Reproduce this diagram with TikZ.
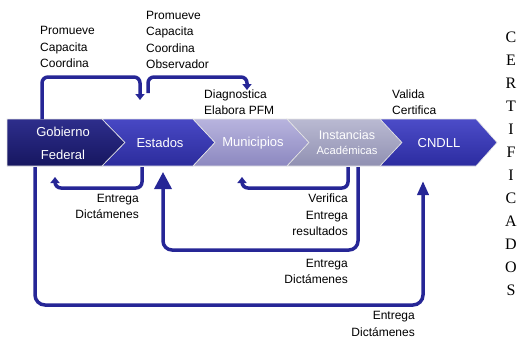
\documentclass[tikz,border=0pt]{standalone}
\usepackage{fontspec}
\setmainfont{Liberation Sans}
\newfontfamily\certfont{Liberation Serif}
\usepackage{xcolor}
\usepackage{tikz}
\usetikzlibrary{arrows.meta,positioning,calc}

\definecolor{flowblue}{RGB}{38,38,150}
\definecolor{gobtop}{RGB}{46,46,140}
\definecolor{gobbot}{RGB}{22,22,96}
\definecolor{esttop}{RGB}{72,72,196}
\definecolor{estbot}{RGB}{44,44,156}
\definecolor{muntop}{RGB}{184,180,222}
\definecolor{munbot}{RGB}{140,136,192}
\definecolor{instop}{RGB}{186,186,210}
\definecolor{insbot}{RGB}{144,144,178}
\definecolor{cndtop}{RGB}{76,76,200}
\definecolor{cndbot}{RGB}{44,44,160}

\begin{document}
\begin{tikzpicture}[
    x=1pt, y=-1pt,
    chev/.style={draw=white!80!gray, line width=0.6pt},
    chevtext/.style={text=white, align=center, inner sep=0pt, font=\fontsize{13}{23}\selectfont},
    lbl/.style={inner sep=0pt, font=\fontsize{12}{16.5}\selectfont},
    flow/.style={draw=flowblue, line width=3.5pt, rounded corners=6pt, -{Triangle[length=6pt,width=9pt]}},
    bigflow/.style={flow, rounded corners=9pt, -{Triangle[length=17pt,width=17pt]}}
]
    \useasboundingbox (0,0) rectangle (517,343);

    % the chevron band
    \shade[chev, top color=gobtop, bottom color=gobbot]
        (7,119) -- (102,119) -- (125,142.5) -- (102,166) -- (7,166) -- cycle;
    \shade[chev, top color=esttop, bottom color=estbot]
        (102,119) -- (193,119) -- (215,142.5) -- (193,166) -- (102,166) -- (125,142.5) -- cycle;
    \shade[chev, top color=muntop, bottom color=munbot]
        (193,119) -- (287,119) -- (309,142.5) -- (287,166) -- (193,166) -- (215,142.5) -- cycle;
    \shade[chev, top color=instop, bottom color=insbot]
        (287,119) -- (380,119) -- (402,142.5) -- (380,166) -- (287,166) -- (309,142.5) -- cycle;
    \shade[chev, top color=cndtop, bottom color=cndbot]
        (380,119) -- (476,119) -- (497,142.5) -- (476,166) -- (380,166) -- (402,142.5) -- cycle;

    \node[chevtext] (gob) at (63,143) {Gobierno\\Federal};
    \node[chevtext] (est) at (160,143) {Estados};
    \node[chevtext] (mun) at (253,143) {Municipios};
    \node[chevtext, font=\fontsize{12.5}{15}\selectfont] (ins) at (347,142.5) {Instancias\\{\fontsize{11.2}{15}\selectfont Académicas}};
    \node[chevtext] (cnd) at (439,143) {CNDLL};

    % connector ends
    \coordinate (gobtop) at (42,119);
    \coordinate (esttop) at (140,100);
    \coordinate (estup) at (148,93);
    \coordinate (muntop) at (247,90);
    \coordinate (estbot) at (142,167);
    \coordinate (gobret) at (55,177);
    \coordinate (insbot) at (348,167);
    \coordinate (munret) at (242,177);
    \coordinate (insdown) at (358,167);
    \coordinate (estret) at (163,172);
    \coordinate (gobbot) at (35,167);
    \coordinate (cndret) at (423,181);

    % flows above the band
    \draw[flow] (gobtop) |- ($(esttop)+(0,-23)$) -- (esttop);
    \draw[flow] (estup) |- ($(muntop)+(0,-13)$) -- (muntop);

    % flows below the band
    \draw[flow] (estbot) |- ($(gobret)+(0,11)$) -- (gobret);
    \draw[flow] (insbot) |- ($(munret)+(0,11)$) -- (munret);
    \draw[bigflow] (insdown) |- ($(estret)+(0,78)$) -- (estret);
    \draw[flow, rounded corners=10pt, -{Triangle[length=14pt,width=11pt]}] (gobbot) |- ($(cndret)+(0,124)$) -- (cndret);

    % labels
    \node[lbl, anchor=west, align=left] (lpromA) at (40,47) {Promueve\\Capacita\\Coordina};
    \node[lbl, anchor=west, align=left] (lpromB) at (146,40) {Promueve\\Capacita\\Coordina\\Observador};
    \node[lbl, anchor=west, align=left] (ldiag) at (204,102) {Diagnostica\\Elabora PFM};
    \node[lbl, anchor=west, align=left] (lval) at (392,102) {Valida\\Certifica};
    \node[lbl, anchor=east, align=right] (lentA) at (139,206.5) {Entrega\\Dictámenes};
    \node[lbl, anchor=east, align=right] (lver) at (348,215) {Verifica\\Entrega\\resultados};
    \node[lbl, anchor=east, align=right] (lentB) at (348,271.5) {Entrega\\Dictámenes};
    \node[lbl, anchor=east, align=right] (lentC) at (415,324) {Entrega\\Dictámenes};

    % vertical word
    \foreach \letra [count=\i from 0] in {C,E,R,T,I,F,I,C,A,D,O,S}
        \node[inner sep=0pt, font=\certfont\fontsize{16}{16}\selectfont] (cert\i) at (511,37+23*\i) {\letra};
\end{tikzpicture}
\end{document}
